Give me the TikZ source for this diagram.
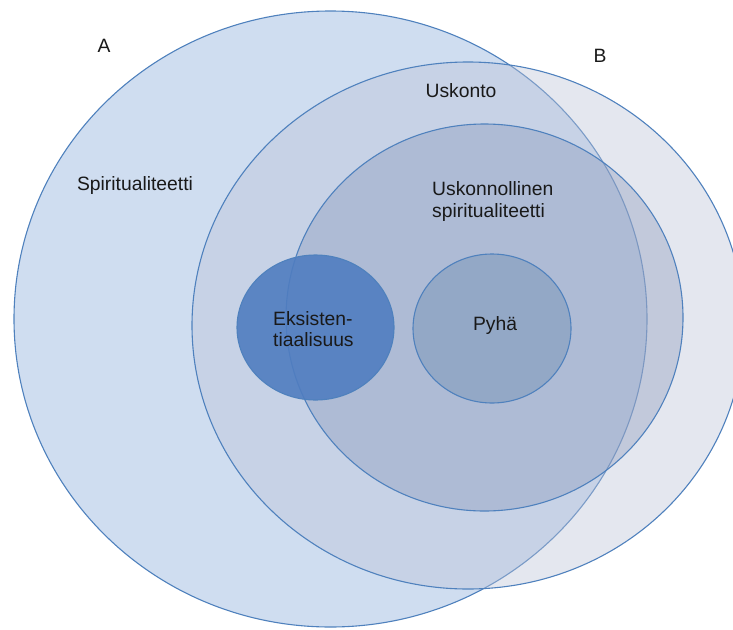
\documentclass[tikz,border=0pt]{standalone}
\usepackage{fontspec}
\setmainfont{Liberation Sans}
\usepackage{xcolor}
\usetikzlibrary{shapes.geometric}

\definecolor{vennline}{RGB}{79,129,189}
\definecolor{spiritfill}{RGB}{207,221,240}
\definecolor{uskontofill}{RGB}{188,195,215}
\definecolor{uskspfill}{RGB}{130,146,183}
\definecolor{eksfill}{RGB}{80,125,192}
\definecolor{pyhafill}{RGB}{147,168,198}
\definecolor{labeltext}{RGB}{25,25,25}

\begin{document}
\begin{tikzpicture}[
    x=1pt, y=-1pt,
    venn/.style={ellipse, draw=vennline, line width=1.1pt, inner sep=0pt},
    lbl/.style={font=\fontsize{19.3}{21.6}\selectfont, text=labeltext, inner sep=0pt, align=left},
]
\useasboundingbox (0,0) rectangle (733,629);

% sets, from the largest one inwards
\node[venn, fill=spiritfill, minimum width=633pt, minimum height=616pt] (spirit) at (330.5,319) {};
\node[venn, fill=uskontofill, fill opacity=0.4, minimum width=552pt, minimum height=527pt] (uskonto) at (468,325.5) {};
\node[venn, fill=uskspfill, fill opacity=0.35, minimum width=397pt, minimum height=387pt] (uskspirit) at (484.5,317.5) {};
\node[venn, fill=eksfill, fill opacity=0.9, minimum width=157pt, minimum height=145pt] (eksist) at (315.5,327.5) {};
\node[venn, fill=pyhafill, minimum width=158pt, minimum height=149pt] (pyha) at (492,328.5) {};

% labels (base = last line)
\node[lbl, anchor=base] (labA) at (104,52) {A};
\node[lbl, anchor=base] (labB) at (600,62) {B};
\node[lbl, anchor=base] (spiritlab) at (135,190.5) {Spiritualiteetti};
\node[lbl, anchor=base] (uskontolab) at (461,97.7) {Uskonto};
\node[lbl, anchor=base west] (uskspiritlab) at (432,217.3) {Uskonnollinen\\spiritualiteetti};
\node[lbl, anchor=base west] (eksistlab) at (273,346.7) {Eksisten-\\tiaalisuus};
\node[lbl, anchor=base] (pyhalab) at (495,330.7) {Pyhä};
\end{tikzpicture}
\end{document}
